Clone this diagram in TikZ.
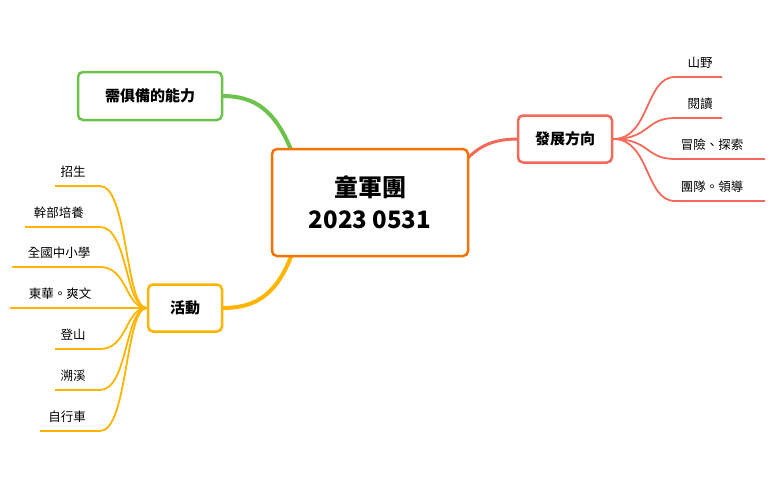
\documentclass[tikz,border=0pt]{standalone}
\usepackage{fontspec}
\setmainfont{Noto Sans CJK TC}
\begin{document}
\begin{tikzpicture}[x=1pt,y=-1pt,
  box/.style={draw,rounded corners=5pt,line width=2.5pt,fill=white,font=\bfseries\fontsize{15}{18}\selectfont,inner sep=0pt},
  leaf/.style={font=\fontsize{12.5}{14}\selectfont,inner sep=0pt,anchor=base},
  ln/.style={line width=1.8pt}]
\definecolor{cor}{HTML}{F57200}
\definecolor{cgr}{HTML}{6CC24A}
\definecolor{csa}{HTML}{F36A5A}
\definecolor{cye}{HTML}{FFB400}
\useasboundingbox (0,0) rectangle (774,479);
% connectors from centre
\draw[cgr,line width=4pt] (292,152) .. controls (275,110) and (255,96) .. (222,96);
\draw[csa,line width=3pt] (466,160) .. controls (480,145) and (495,139) .. (518,139);
\draw[cye,line width=4pt] (292,254) .. controls (275,300) and (250,308) .. (222,308);
\node[box,draw=cor,minimum width=196pt,minimum height=107pt,align=center,font=\bfseries\fontsize{24}{32}\selectfont] (c) at (370,202.5) {童軍團\\2023 0531};
\node[box,draw=cgr,minimum width=144pt,minimum height=48pt] (a) at (150,96) {需俱備的能力};
\node[box,draw=csa,minimum width=94pt,minimum height=47pt] (b) at (565,139) {發展方向};
\node[box,draw=cye,minimum width=74pt,minimum height=47pt] (d) at (185,308) {活動};
% right leaves
\foreach \n/\t/\y/\e/\tx in {r1/山野/77/722/700, r2/閱讀/118/722/700, r3/冒險、探索/159/765/712, r4/團隊。領導/201/765/712}{
  \node[leaf] (\n) at (\tx,\y-10) {\t};
  \coordinate (\n s) at (675,\y);
  \coordinate (\n e) at (\e,\y);
  \draw[csa,ln] (b.east) .. controls (650,139) and (645,\y) .. (\n s) -- (\n e);
}
% left leaves
\foreach \n/\t/\y/\s/\tx in {l1/招生/186/55/73, l2/幹部培養/227/25/59, l3/全國中小學/267/12/59, l4/東華。爽文/308/10/60, l5/登山/349/55/73, l6/溯溪/390/55/73, l7/自行車/431/40/67}{
  \node[leaf] (\n) at (\tx,\y-10) {\t};
  \coordinate (\n s) at (100,\y);
  \coordinate (\n e) at (\s,\y);
  \draw[cye,ln] (d.west) .. controls (125,308) and (128,\y) .. (\n s) -- (\n e);
}
\end{tikzpicture}
\end{document}
